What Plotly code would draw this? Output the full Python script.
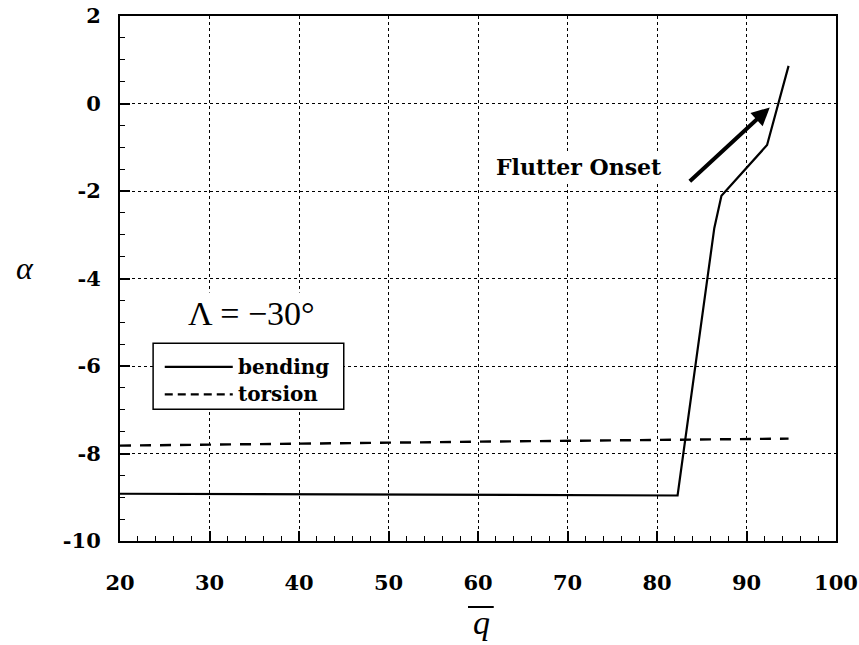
import plotly.graph_objects as go

# Dynamic pressure (q-bar) and the real part of the root, alpha, for each mode
bending_q = [20, 50, 82.3, 86.4, 87.2, 92.3, 94.7]
bending_alpha = [-8.92, -8.94, -8.96, -2.85, -2.11, -0.95, 0.86]

torsion_q = [20, 40, 60, 80, 94.7]
torsion_alpha = [-7.82, -7.77, -7.73, -7.69, -7.66]

x_ticks = [20, 30, 40, 50, 60, 70, 80, 90, 100]
x_ticklabels = ["20", "30", "40", "50", "60", "70", "80", "90", "100"]
y_ticks = [2, 0, -2, -4, -6, -8, -10]
y_ticklabels = ["2", "0", "-2", "-4", "-6", "-8", "-10"]

# Flutter onset arrow (tail -> tip)
arrow_tail = (83.5, -1.81)
arrow_tip = (92.6, -0.09)

BOLD = "DejaVu Serif"
SERIF = "Liberation Serif"

fig = go.Figure()
fig.add_trace(go.Scatter(x=bending_q, y=bending_alpha, mode="lines", name="bending",
                         line=dict(color="black", width=2.2), showlegend=False))
fig.add_trace(go.Scatter(x=torsion_q, y=torsion_alpha, mode="lines", name="torsion",
                         line=dict(color="black", width=2.4, dash="11px,9px"), showlegend=False))

axis_common = dict(
    showline=True, linewidth=2, linecolor="black", mirror=True, automargin=False,
    showgrid=True, gridcolor="black", gridwidth=1.4, griddash="dot",
    zeroline=False, ticks="inside", ticklen=10, tickwidth=1.5, tickcolor="black",
    tickfont=dict(family=BOLD, size=21, color="black", weight="bold"),
)

fig.update_xaxes(range=[20, 100], tickvals=x_ticks, ticktext=x_ticklabels,
                 minor=dict(dtick=2, ticks="inside", ticklen=5, tickwidth=1.3,
                            tickcolor="black", showgrid=False),
                 ticklabelstandoff=22, **axis_common)
fig.update_yaxes(range=[-10, 2], tickvals=y_ticks, ticktext=y_ticklabels,
                 minor=dict(dtick=0.5, ticks="inside", ticklen=5, tickwidth=1.3,
                            tickcolor="black", showgrid=False),
                 ticklabelstandoff=13, **axis_common)

# Key box with line samples
shapes = [
    dict(type="rect", xref="x", yref="y", x0=26, x1=44, y0=-5.48, y1=-4.45,
         fillcolor="white", line=dict(width=0), layer="above"),
    dict(type="rect", xref="x", yref="y", x0=23.7, x1=45.0, y0=-6.99, y1=-5.48,
         fillcolor="white", line=dict(color="black", width=1.5), layer="above"),
    dict(type="line", xref="x", yref="y", x0=25.0, x1=32.6, y0=-6.02, y1=-6.02,
         line=dict(color="black", width=2.2), layer="above"),
    dict(type="line", xref="x", yref="y", x0=25.0, x1=32.6, y0=-6.65, y1=-6.65,
         line=dict(color="black", width=2.2, dash="8px,5px"), layer="above"),
    # overline of the q-bar axis title
    dict(type="line", xref="paper", yref="paper", x0=0.486, x1=0.522, y0=-0.1257, y1=-0.1257,
         line=dict(color="black", width=2)),
]

annotations = [
    dict(x=33.0, y=-6.02, xref="x", yref="y", text="bending", showarrow=False,
         xanchor="left", yanchor="middle",
         font=dict(family=BOLD, size=20, color="black", weight="bold")),
    dict(x=33.0, y=-6.65, xref="x", yref="y", text="torsion", showarrow=False,
         xanchor="left", yanchor="middle",
         font=dict(family=BOLD, size=20, color="black", weight="bold")),
    dict(x=34.7, y=-4.81, xref="x", yref="y", text="Λ = −30°", showarrow=False,
         xanchor="center", yanchor="middle", bgcolor="white", borderpad=2,
         font=dict(family=SERIF, size=34, color="black")),
    dict(x=80.9, y=-1.45, xref="x", yref="y", text="Flutter Onset", showarrow=False,
         xanchor="right", yanchor="middle", bgcolor="white", borderpad=2,
         font=dict(family=BOLD, size=22, color="black", weight="bold")),
    dict(x=arrow_tip[0], y=arrow_tip[1], ax=arrow_tail[0], ay=arrow_tail[1],
         xref="x", yref="y", axref="x", ayref="y", text="", showarrow=True,
         arrowhead=2, arrowsize=0.9, arrowwidth=4, arrowcolor="black"),
    dict(x=-0.133, y=-3.76, xref="paper", yref="y", text="<i>α</i>", showarrow=False,
         xanchor="center", yanchor="middle",
         font=dict(family=SERIF, size=32, color="black")),
    dict(x=0.505, y=-0.117, xref="paper", yref="paper", text="<i>q</i>", showarrow=False,
         xanchor="center", yanchor="top",
         font=dict(family=SERIF, size=34, color="black")),
]

fig.update_layout(
    width=859, height=645,
    margin=dict(l=120, r=23, t=16, b=104),
    paper_bgcolor="white", plot_bgcolor="white",
    shapes=shapes, annotations=annotations,
)

fig.write_html("out.html")
